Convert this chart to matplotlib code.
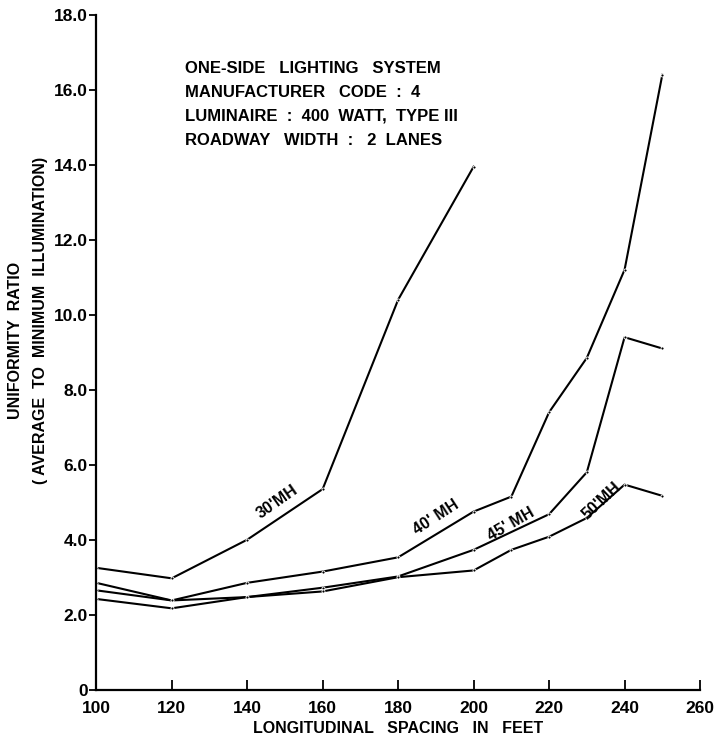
import matplotlib.pyplot as plt

plt.rcParams['font.family'] = 'Liberation Sans'
plt.rcParams['font.weight'] = 'bold'

# spacing (ft) and uniformity ratio for each mounting height
x_30 = [100, 120, 140, 160, 180, 200]
y_30 = [3.25, 2.97, 4.0, 5.35, 10.4, 13.95]

x_40 = [100, 120, 140, 160, 180, 200, 210, 220, 230, 240, 250]
y_40 = [2.85, 2.38, 2.85, 3.15, 3.53, 4.75, 5.15, 7.4, 8.85, 11.2, 16.4]

x_45 = [100, 120, 140, 160, 180, 200, 220, 230, 240, 250]
y_45 = [2.65, 2.38, 2.47, 2.72, 3.02, 3.73, 4.68, 5.8, 9.4, 9.1]

x_50 = [100, 120, 140, 160, 180, 200, 210, 220, 230, 240, 250]
y_50 = [2.42, 2.17, 2.47, 2.62, 3.0, 3.18, 3.73, 4.08, 4.58, 5.47, 5.17]

x_ticks = [100, 120, 140, 160, 180, 200, 220, 240, 260]
y_ticks = [0, 2, 4, 6, 8, 10, 12, 14, 16, 18]
y_tick_labels = ['0', '2.0', '4.0', '6.0', '8.0', '10.0', '12.0', '14.0', '16.0', '18.0']

fig = plt.figure(figsize=(7.18, 7.40), dpi=100)
ax = fig.add_axes([0.134, 0.068, 0.841, 0.912])

for xs, ys in [(x_30, y_30), (x_40, y_40), (x_45, y_45), (x_50, y_50)]:
    ax.plot(xs, ys, color='black', lw=1.5, marker='o', markersize=2.2,
            markerfacecolor='black', markeredgecolor='white', markeredgewidth=0.6)

ax.set_xlim(100, 260)
ax.set_ylim(0, 18)
ax.set_xticks(x_ticks)
ax.set_yticks(y_ticks)
ax.set_yticklabels(y_tick_labels)
ax.tick_params(axis='x', direction='in', length=7, width=1.3, labelsize=12.5, pad=8)
ax.tick_params(axis='y', direction='out', length=5, width=1.3, labelsize=12.5, pad=1)
for s in ['top', 'right']:
    ax.spines[s].set_visible(False)
for s in ['left', 'bottom']:
    ax.spines[s].set_linewidth(1.6)

ax.set_xlabel('LONGITUDINAL   SPACING   IN   FEET', fontsize=11.5, fontweight='bold', labelpad=4)
fig.text(0.021, 0.54, 'UNIFORMITY  RATIO', rotation=90, ha='center', va='center',
         fontsize=11.5, fontweight='bold')
fig.text(0.056, 0.567, '( AVERAGE  TO  MINIMUM  ILLUMINATION)', rotation=90,
         ha='center', va='center', fontsize=11.5, fontweight='bold')

notes = ['ONE-SIDE   LIGHTING   SYSTEM',
         'MANUFACTURER   CODE  :  4',
         'LUMINAIRE  :  400  WATT,  TYPE III',
         'ROADWAY   WIDTH  :   2  LANES']
for i, line in enumerate(notes):
    fig.text(0.258, 0.908 - i * 0.0325, line, fontsize=12, fontweight='bold',
             ha='left', va='center')

ax.text(148, 5.0, "30'MH", rotation=35, fontsize=11.5, fontweight='bold', ha='center', va='center')
ax.text(190, 4.6, "40' MH", rotation=33, fontsize=11.5, fontweight='bold', ha='center', va='center')
ax.text(210, 4.4, "45' MH", rotation=30, fontsize=11.5, fontweight='bold', ha='center', va='center')
ax.text(234, 5.05, "50'MH", rotation=43, fontsize=11.5, fontweight='bold', ha='center', va='center')

fig.savefig('out.png', dpi=100)
